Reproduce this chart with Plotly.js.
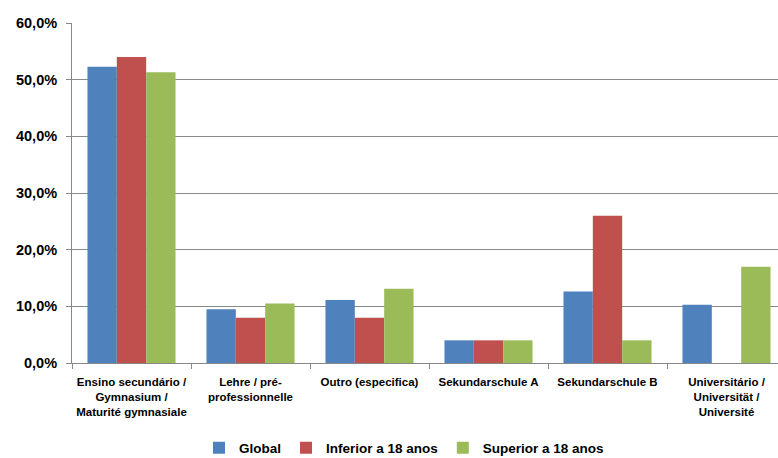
<!DOCTYPE html>
<html><head><meta charset="utf-8">
<script src="https://cdn.plot.ly/plotly-3.0.1.min.js"></script>
<style>html,body{margin:0;padding:0;overflow:hidden;background:#fff}#c{width:786px;height:458px}</style>
</head><body><div id="c"></div>
<script>
const categories = [
  "Ensino secundário /<br>Gymnasium /<br>Maturité gymnasiale",
  "Lehre / pré-<br>professionnelle",
  "Outro (especifica)",
  "Sekundarschule A",
  "Sekundarschule B",
  "Universitário /<br>Universität /<br>Université"
];
const seriesNames = ["Global", "Inferior a 18 anos", "Superior a 18 anos"];
const globalVals   = [52.3, 9.5, 11.1, 4.0, 12.6, 10.3];
const inferiorVals = [54.0, 8.0, 8.0, 4.0, 26.0, 0];
const superiorVals = [51.3, 10.5, 13.1, 4.0, 4.0, 17.0];
const tickVals = [0, 10, 20, 30, 40, 50, 60];
const tickText = ["0,0%", "10,0%", "20,0%", "30,0%", "40,0%", "50,0%", "60,0%"];

const colors = ["#4F81BD", "#C0504D", "#9BBB59"];
const allVals = [globalVals, inferiorVals, superiorVals];
const data = allVals.map((v, i) => ({
  type: "bar", x: categories, y: v, name: seriesNames[i],
  marker: {color: colors[i], line: {width: 0}}, hoverinfo: "none"
}));

const font = "'Liberation Sans', Arial, sans-serif";
const layout = {
  width: 786, height: 458,
  margin: {l: 72, r: 0, t: 23, b: 94.5},
  paper_bgcolor: "#fff", plot_bgcolor: "#fff",
  barmode: "group", bargap: 0.26, bargroupgap: 0,
  font: {family: font, color: "#000"},
  showlegend: true,
  legend: {orientation: "h", x: 0.514, xref: "container", xanchor: "center",
           y: 0.022, yref: "container", yanchor: "middle",
           font: {size: 13.5, family: font, weight: "bold"}, itemwidth: 30, tracegroupgap: 0},
  xaxis: {
    type: "category", showgrid: false, showline: true, linecolor: "#888", linewidth: 1,
    ticks: "outside", tickson: "boundaries", ticklen: 5, tickcolor: "#888", tickangle: 0,
    ticklabelstandoff: 8,
    tickfont: {size: 11.5, family: font, weight: "bold"}, automargin: false
  },
  yaxis: {
    range: [0, 60], tickvals: tickVals, ticktext: tickText,
    showgrid: true, gridcolor: "#888", gridwidth: 1,
    showline: true, linecolor: "#888", linewidth: 1,
    ticks: "outside", ticklen: 5, tickcolor: "#888", zeroline: false,
    ticklabelstandoff: 6,
    tickfont: {size: 14.5, family: font, weight: "bold"}, automargin: false
  }
};
Plotly.newPlot("c", data, layout, {staticPlot: true, displayModeBar: false});
</script></body></html>
